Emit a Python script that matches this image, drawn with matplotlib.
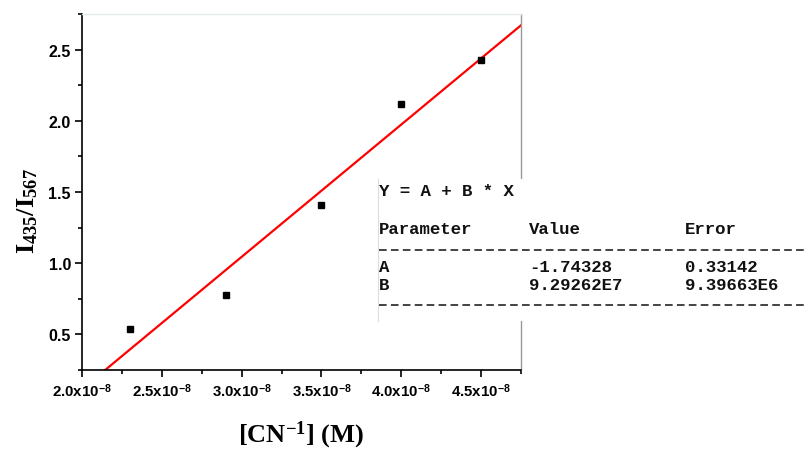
import matplotlib
matplotlib.use('Agg')
import matplotlib.pyplot as plt
from matplotlib.ticker import MultipleLocator, FuncFormatter
from matplotlib.patches import Rectangle
from matplotlib.lines import Line2D

plt.rcParams['mathtext.fontset'] = 'custom'
plt.rcParams['mathtext.rm'] = 'Liberation Serif:bold'
plt.rcParams['mathtext.bf'] = 'Liberation Serif:bold'
plt.rcParams['mathtext.it'] = 'Liberation Serif:bold'
plt.rcParams['mathtext.sf'] = 'Liberation Sans:bold'

# datos
cn_conc = [2.3e-8, 2.9e-8, 3.5e-8, 4.0e-8, 4.5e-8]
ratio = [0.535, 0.78, 1.41, 2.12, 2.43]
fit_A = -1.74328
fit_B = 9.29262e7
param_names = ['A', 'B']
param_values = ['-1.74328', '9.29262E7']
param_errors = ['0.33142', '9.39663E6']

xmin, xmax = 2.0e-8, 4.75e-8
ymin, ymax = 0.25, 2.75

fig = plt.figure(figsize=(8.08, 4.52), dpi=100)
ax = fig.add_axes([0.1015, 0.1792, 0.5433, 0.7876])

ax.plot(cn_conc, ratio, 's', color='black', markersize=4.3, zorder=3)
fx = [(ymin - fit_A) / fit_B, xmax]
ax.plot(fx, [fit_A + fit_B * v for v in fx], color='red', linewidth=1.6, zorder=2)

ax.set_xlim(xmin, xmax)
ax.set_ylim(ymin, ymax)
ax.xaxis.set_major_locator(MultipleLocator(0.5e-8))
ax.xaxis.set_minor_locator(MultipleLocator(0.25e-8))
ax.yaxis.set_major_locator(MultipleLocator(0.5))
ax.yaxis.set_minor_locator(MultipleLocator(0.25))
ax.xaxis.set_major_formatter(FuncFormatter(lambda v, p: f'{v*1e8:.1f}x10$^{{\\mathsf{{-8}}}}$'))
ax.yaxis.set_major_formatter(FuncFormatter(lambda v, p: f'{v:.1f}'))
ax.tick_params(which='major', direction='out', length=5, width=1.2, pad=3)
ax.tick_params(which='minor', direction='out', length=3, width=1.2)
for lab in ax.get_xticklabels():
    lab.set_fontfamily('Liberation Sans')
    lab.set_fontweight('bold')
    lab.set_fontsize(10.8)
for lab in ax.get_yticklabels():
    lab.set_fontfamily('Liberation Sans')
    lab.set_fontweight('bold')
    lab.set_fontsize(11.5)

ax.spines['left'].set_linewidth(1.2)
ax.spines['bottom'].set_linewidth(1.2)
ax.spines['top'].set_color('#e6ecec')
ax.spines['top'].set_linewidth(1)
ax.spines['right'].set_color('#999999')
ax.spines['right'].set_linewidth(1)

ax.set_xlabel('[CN$^{\\mathrm{-1}}$] (M)', fontfamily='Liberation Serif',
              fontweight='bold', fontsize=19, labelpad=14)
ax.set_ylabel('I$_{\\mathrm{435}}$/I$_{\\mathrm{567}}$', fontfamily='Liberation Serif',
              fontweight='bold', fontsize=19)
ax.yaxis.set_label_coords(-0.095, 0.45)

# cuadro de resultados del ajuste
W, H = 808, 452
def fx_(px):
    return px / W
def fy_(py):
    return 1 - py / H

fig.add_artist(Rectangle((fx_(378), fy_(322)), 1 - fx_(378), (322 - 180) / H,
                         transform=fig.transFigure, facecolor='white',
                         edgecolor='none', zorder=5))
fig.add_artist(Line2D([fx_(378), fx_(378)], [fy_(322), fy_(180)],
                      transform=fig.transFigure, color='#dddddd', linewidth=0.8, zorder=6))

tkw = dict(fontfamily='Liberation Mono', fontweight='bold', fontsize=12.5,
           va='center', ha='left', zorder=7, color='#111111')
fig.text(fx_(379), fy_(192), 'Y = A + B * X', **tkw)
fig.text(fx_(379), fy_(230), 'Parameter', **tkw)
fig.text(fx_(529), fy_(230), 'Value', **tkw)
fig.text(fx_(685), fy_(230), 'Error', **tkw)
for i, name in enumerate(param_names):
    yy = fy_(268 + 17 * i)
    fig.text(fx_(379), yy, name, **tkw)
    fig.text(fx_(529), yy, param_values[i], **tkw)
    fig.text(fx_(685), yy, param_errors[i], **tkw)
for py in [251, 306]:
    fig.add_artist(Line2D([fx_(379), 1.0], [fy_(py), fy_(py)], transform=fig.transFigure,
                          color='#111111', linewidth=1.1, dashes=(5, 2.8), zorder=7))

fig.savefig('out.png', dpi=100)
